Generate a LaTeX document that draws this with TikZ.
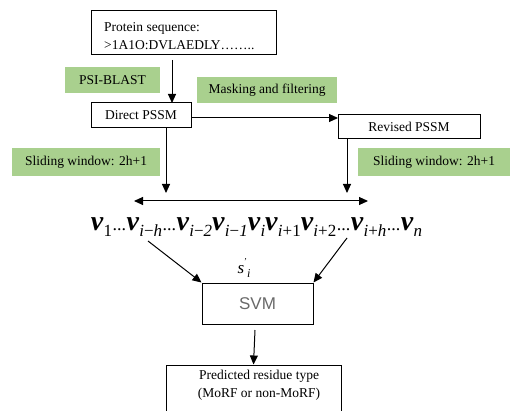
\documentclass[tikz,border=0pt]{standalone}
\usepackage{fontspec}
\setmainfont{Liberation Serif}
\newfontfamily\arialf{Liberation Sans}
\usetikzlibrary{arrows.meta}
\definecolor{leaf}{RGB}{169,208,142}
\definecolor{svmgray}{RGB}{105,105,105}
\newcommand{\seqv}[1]{{\bfseries\itshape v}\kern0.3pt\raisebox{-0.5ex}{\fontsize{17}{17}\selectfont #1}}
\newcommand{\sdots}{{\fontsize{18}{18}\selectfont\kern0.5pt...\kern0.5pt}}
\newcommand{\mi}{{\upshape\char"2212\relax}}
\begin{document}
\begin{tikzpicture}[x=1pt,y=-1pt,
  box/.style={draw, line width=1pt, minimum height=25pt, inner sep=0pt, font=\rmfamily\fontsize{13.5}{16}\selectfont},
  tag/.style={fill=leaf, inner sep=0pt, minimum height=27pt, font=\rmfamily\fontsize{13.5}{16}\selectfont},
  arr/.style={line width=1pt, -{Triangle[length=9pt,width=8pt]}},
  darr/.style={line width=1pt, {Triangle[length=9pt,width=8pt]}-{Triangle[length=9pt,width=8pt]}}]
\useasboundingbox (0,0) rectangle (510,411);
% boxes
\node[box, minimum width=185pt, minimum height=44pt] (prot) at (183.5,33) {};
\node[anchor=west, font=\rmfamily\fontsize{13.5}{18}\selectfont, align=left, inner sep=0pt] (prottext) at (104,36.5) {Protein sequence:\\>1A1O:DVLAEDLY……..};
\node[box, minimum width=100pt] (direct) at (141,115.5) {Direct PSSM};
\node[box, minimum width=142pt, minimum height=24pt] (revised) at (409,127) {Revised PSSM};
% green tags
\node[tag, minimum width=95pt, minimum height=26pt] (psi) at (112.5,80) {PSI-BLAST};
\node[tag, minimum width=140pt, minimum height=26pt] (mask) at (267,90) {Masking and filtering};
\node[tag, minimum width=148pt, minimum height=28pt] (slideL) at (86,162) {Sliding window: 2h+1};
\node[tag, minimum width=152pt, minimum height=28pt] (slideR) at (434,162) {Sliding window: 2h+1};
% arrows
\coordinate (pa) at (172,60);
\coordinate (pb) at (172,103);
\draw[arr] (pa) -- (pb);
\coordinate (da) at (191,118);
\coordinate (db) at (338,118);
\draw[arr] (da) -- (db);
\coordinate (dl) at (166,193);
\coordinate (dr) at (347,193);
\draw[arr] (direct.south -| dl) -- (dl);
\draw[arr] (revised.south -| dr) -- (dr);
\coordinate (hl) at (134,201);
\coordinate (hr) at (368,201);
\draw[darr] (hl) -- (hr);
% sequence
\node[anchor=base, inner sep=0pt, font=\rmfamily\fontsize{28}{30}\selectfont] (seq) at (256.5,230)
 {\seqv{1}\sdots\seqv{\itshape i\mi h}\sdots\seqv{\itshape i\mi 2}\seqv{\itshape i\mi 1}\seqv{\itshape i}\seqv{\itshape i\upshape +1}\seqv{\itshape i\upshape +2}\sdots\seqv{\itshape i\upshape +\itshape h}\sdots\seqv{\itshape n}};
\node[inner sep=0pt, font=\rmfamily\fontsize{17}{18}\selectfont] (si) at (244,268) {\itshape s\raisebox{1.2ex}{\fontsize{9}{9}\selectfont\upshape '}\raisebox{-0.5ex}{\fontsize{12}{12}\selectfont i}};
% SVM
\node[draw, line width=1pt, minimum width=111pt, minimum height=41pt, inner sep=0pt, text=svmgray, font=\arialf\fontsize{17}{18}\selectfont] (svm) at (257.5,303.5) {SVM};
\coordinate (la) at (148,241);
\coordinate (ra) at (347,238);
\draw[arr] (la) -- (svm.north west);
\draw[arr] (ra) -- (svm.north east);
% predicted
\node[draw, line width=1pt, minimum width=175pt, minimum height=60pt, inner sep=0pt] (pred) at (253.5,395) {};
\node[align=center, inner sep=0pt, font=\rmfamily\fontsize{13.5}{18}\selectfont] (predtext) at (259,385) {Predicted residue type\\(MoRF or non-MoRF)};
\coordinate (sa) at (255,330);
\draw[arr] (sa) -- (pred.north);
\end{tikzpicture}
\end{document}
